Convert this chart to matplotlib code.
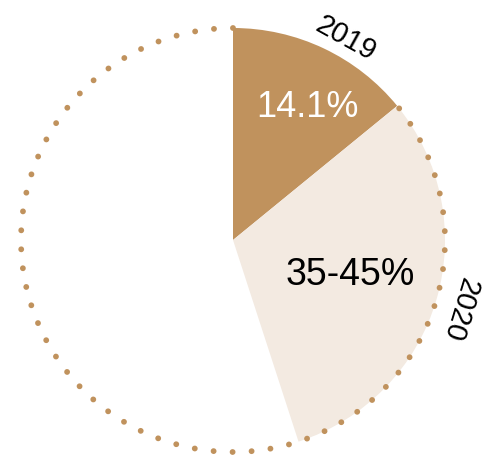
import matplotlib.pyplot as plt
from matplotlib.patches import Arc

# shares (percent of the full circle)
years = ["2019", "2020"]
shares = [14.1, 30.9]  # 2019 slice, 2020 slice (up to 45%)
inner_labels = ["14.1%", "35-45%"]
colors = ["#C0925D", "#F3EAE1"]
dot_color = "#C0925D"

plt.rcParams["font.family"] = ["Liberation Sans", "DejaVu Sans"]

fig = plt.figure(figsize=(4.82, 4.59), dpi=100)
ax = fig.add_axes([0, 0, 1, 1])

rest = 100 - sum(shares)
wedges, _ = ax.pie(shares + [rest], colors=colors + ["none"], startangle=90,
                   counterclock=False, radius=1,
                   wedgeprops=dict(linewidth=0))

# dotted outline from the end of the 2019 slice round to the top
theta_end = 90 + 360 * (100 - shares[0]) / 100
arc = Arc((0, 0), 2, 2, theta1=90, theta2=theta_end, color=dot_color,
          linewidth=4.2, linestyle=(0, (0.01, 3.25)), capstyle="round")
ax.add_patch(arc)

# inner percentage labels
ax.text(0.35, 0.625, inner_labels[0], color="white", fontsize=26,
        ha="center", va="center")
ax.text(0.552, -0.165, inner_labels[1], color="black", fontsize=27,
        ha="center", va="center")

# year labels along the rim
ax.text(0.532, 0.95, years[0], fontsize=21, rotation=-29,
        ha="center", va="center", rotation_mode="anchor")
ax.text(1.07, -0.325, years[1], fontsize=21, rotation=-106.8,
        ha="center", va="center", rotation_mode="anchor")

ax.set_xlim(-233 / 212, (482 - 233) / 212)
ax.set_ylim(-219 / 212, 240 / 212)
ax.set_aspect("auto")
ax.axis("off")

plt.savefig("out.png", dpi=100)
